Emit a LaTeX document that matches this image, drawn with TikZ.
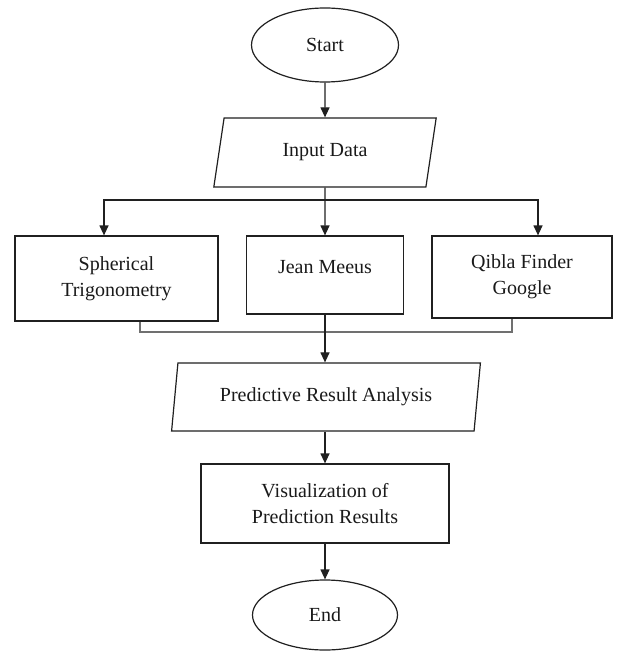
\documentclass[tikz,border=0pt]{standalone}
\usepackage{fontspec}
\setmainfont{Liberation Serif}
\usepackage{tikz}
\usetikzlibrary{arrows.meta,positioning,shapes.geometric}
\definecolor{fcInk}{HTML}{1A1A1A}
\definecolor{fcLine}{HTML}{202020}
\definecolor{fcJoin}{HTML}{707070}
\tikzset{
  fc diagram/.style={font=\fontsize{10}{13}\selectfont, text=fcInk,
    line width=0.6pt},
  fc terminal/.style={ellipse, draw=fcLine, fill=white, inner sep=0pt},
  fc io/.style={trapezium, trapezium left angle=76, trapezium right angle=104,
    trapezium stretches=true, draw=fcLine, fill=white, inner sep=0pt, align=center},
  fc box/.style={rectangle, draw=fcLine, fill=white, inner sep=0pt, align=center},
  fc arrow/.style={-{Triangle[length=5pt,width=4.5pt]}, draw=fcLine},
  fc join/.style={draw=fcJoin}
}
\begin{document}
\begin{tikzpicture}[fc diagram,x=0.5pt,y=-0.5pt]
\useasboundingbox (0,0) rectangle (622,652);
% terminals and steps
\node[fc terminal,minimum width=73.5pt,minimum height=37pt] (start) at (325,45) {Start};
\node[fc io,minimum width=111.5pt,minimum height=34.5pt] (input) at (325,152.5) {Input Data};
\node[fc box,minimum width=101.5pt,minimum height=42.5pt] (sph) at (116.5,278.5) {Spherical\\Trigonometry};
\node[fc box,minimum width=78.5pt,minimum height=39pt,text depth=8pt] (meeus) at (325,275) {Jean Meeus};
\node[fc box,minimum width=90pt,minimum height=41pt] (qibla) at (522,277) {Qibla Finder\\Google};
\node[fc io,minimum width=154.5pt,minimum height=34pt] (pred) at (326,397) {Predictive Result Analysis};
\node[fc box,minimum width=124pt,minimum height=39.5pt] (vis) at (325,503.5) {Visualization of\\Prediction Results};
\node[fc terminal,minimum width=72.5pt,minimum height=35pt] (end) at (325,615) {End};
% connectors
\coordinate (fork) at (325,200);
\coordinate (merge) at (325,332);
\draw[fc arrow] (start) -- (input);
\draw[fc arrow] (input) -- (meeus);
\draw[fc arrow] (fork) -| ([xshift=-6.25pt]sph.north);
\draw[fc arrow] (fork) -| ([xshift=8pt]qibla.north);
\draw[fc join] ([xshift=11.75pt]sph.south) |- (merge) -| ([xshift=-5pt]qibla.south);
\draw[fc arrow] (meeus) -- (meeus |- pred.north);
\draw[fc arrow] (vis |- pred.south) -- (vis);
\draw[fc arrow] (vis) -- (end);
\end{tikzpicture}
\end{document}
